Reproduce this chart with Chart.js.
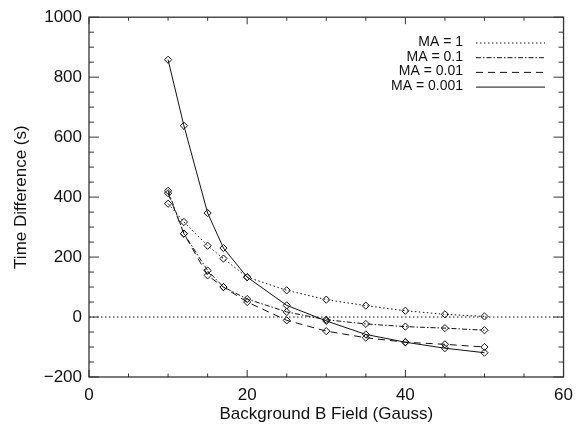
<!DOCTYPE html>
<html>
<head>
<meta charset="utf-8">
<script src="https://cdn.jsdelivr.net/npm/chart.js@4"></script>
<style>
  html, body { margin: 0; padding: 0; background: #fff; }
  #wrap { width: 581px; height: 426px; }
</style>
</head>
<body>
<div id="wrap"><canvas id="chart"></canvas></div>
<script>
// B field values (Gauss)
const bField = [10, 12, 15, 17, 20, 25, 30, 35, 40, 45, 50];

// time difference (s) for each MA
const ma1 = [378, 317, 238, 195, 133, 89, 58, 38, 21, 9, 2];
const ma01 = [421, 278, 155, 100, 60, 17, -9, -23, -32, -37, -44];
const ma001 = [413, 278, 139, 100, 50, -11, -47, -69, -84, -91, -100];
const ma0001 = [858, 638, 347, 230, 133, 39, -13, -58, -84, -104, -119];

const seriesLabels = ['MA = 1', 'MA = 0.1', 'MA = 0.01', 'MA = 0.001'];
const dashes = [[1.5, 2.5], [5, 2, 1.5, 2], [7, 5], []];

const xTicks = [0, 20, 40, 60];
const yTicks = [-200, 0, 200, 400, 600, 800, 1000];

const FONT = '"Liberation Sans", Helvetica, Arial, sans-serif';

const toPts = (vals) => bField.map((b, i) => ({ x: b, y: vals[i] }));

const mkSet = (label, vals, dash) => ({
  label: label,
  data: toPts(vals),
  borderColor: '#111',
  borderWidth: 1,
  borderDash: dash,
  tension: 0,
  pointStyle: 'rectRot',
  pointRadius: 3.6,
  pointBorderWidth: 1,
  pointBorderColor: '#111',
  pointBackgroundColor: 'rgba(0,0,0,0)',
});

// inward ticks, box frame and legend, like the IDL plot
const framePlugin = {
  id: 'frame',
  afterDraw(chart) {
    const ctx = chart.ctx;
    const a = chart.chartArea;
    const xs = chart.scales.x;
    const ys = chart.scales.y;
    ctx.save();
    ctx.strokeStyle = '#333';
    ctx.lineWidth = 1.3;
    ctx.strokeRect(a.left, a.top, a.right - a.left, a.bottom - a.top);
    ctx.lineWidth = 1;
    ctx.beginPath();
    for (let v = 0; v <= 60; v += 5) {
      const px = xs.getPixelForValue(v);
      const len = v % 20 === 0 ? 7 : 3.5;
      ctx.moveTo(px, a.bottom); ctx.lineTo(px, a.bottom - len);
      ctx.moveTo(px, a.top); ctx.lineTo(px, a.top + len);
    }
    for (let v = -200; v <= 1000; v += 50) {
      const py = ys.getPixelForValue(v);
      const len = v % 200 === 0 ? 10 : 5;
      ctx.moveTo(a.left, py); ctx.lineTo(a.left + len, py);
      ctx.moveTo(a.right, py); ctx.lineTo(a.right - len, py);
    }
    ctx.stroke();

    // legend
    ctx.font = '14px ' + FONT;
    ctx.fillStyle = '#111';
    ctx.textAlign = 'right';
    ctx.textBaseline = 'middle';
    ctx.strokeStyle = '#111';
    seriesLabels.forEach((lab, i) => {
      const y = 42 + i * 14.7;
      ctx.fillText(lab, 463, y);
      ctx.setLineDash(dashes[i]);
      ctx.beginPath();
      ctx.moveTo(476, y + 1);
      ctx.lineTo(545, y + 1);
      ctx.stroke();
    });
    ctx.restore();
  }
};

new Chart(document.getElementById('chart'), {
  type: 'line',
  data: {
    datasets: [
      {
        label: 'zero',
        data: [{ x: 0, y: 0 }, { x: 60, y: 0 }],
        borderColor: '#111',
        borderWidth: 1,
        borderDash: [1.5, 2.5],
        pointRadius: 0,
      },
      mkSet(seriesLabels[0], ma1, dashes[0]),
      mkSet(seriesLabels[1], ma01, dashes[1]),
      mkSet(seriesLabels[2], ma001, dashes[2]),
      mkSet(seriesLabels[3], ma0001, dashes[3]),
    ],
  },
  options: {
    responsive: true,
    maintainAspectRatio: false,
    animation: false,
    layout: { padding: { top: 15, right: 12, left: 0, bottom: 0 } },
    plugins: {
      legend: { display: false },
      tooltip: { enabled: false },
    },
    scales: {
      x: {
        type: 'linear',
        min: 0,
        max: 60,
        afterBuildTicks: (s) => { s.ticks = xTicks.map((v) => ({ value: v })); },
        afterFit: (s) => { s.height = 49; },
        grid: { display: false, drawTicks: false },
        border: { display: false },
        ticks: { padding: 8, color: '#111', font: { family: FONT, size: 17 }, maxRotation: 0 },
        title: {
          display: true,
          text: 'Background B Field (Gauss)',
          color: '#111',
          font: { family: FONT, size: 17, lineHeight: 1 },
          padding: { top: 0, bottom: 3 },
        },
      },
      y: {
        type: 'linear',
        min: -200,
        max: 1000,
        afterBuildTicks: (s) => { s.ticks = yTicks.map((v) => ({ value: v })); },
        afterFit: (s) => { s.width = 89; },
        grid: { display: false, drawTicks: false },
        border: { display: false },
        ticks: {
          padding: 7,
          color: '#111',
          font: { family: FONT, size: 17 },
          callback: (v) => String(v).replace('-', '\u2212'),
        },
        title: {
          display: true,
          text: 'Time Difference (s)',
          color: '#111',
          font: { family: FONT, size: 17, lineHeight: 1 },
          padding: { top: 13, bottom: 0 },
        },
      },
    },
  },
  plugins: [framePlugin],
});
</script>
</body>
</html>
